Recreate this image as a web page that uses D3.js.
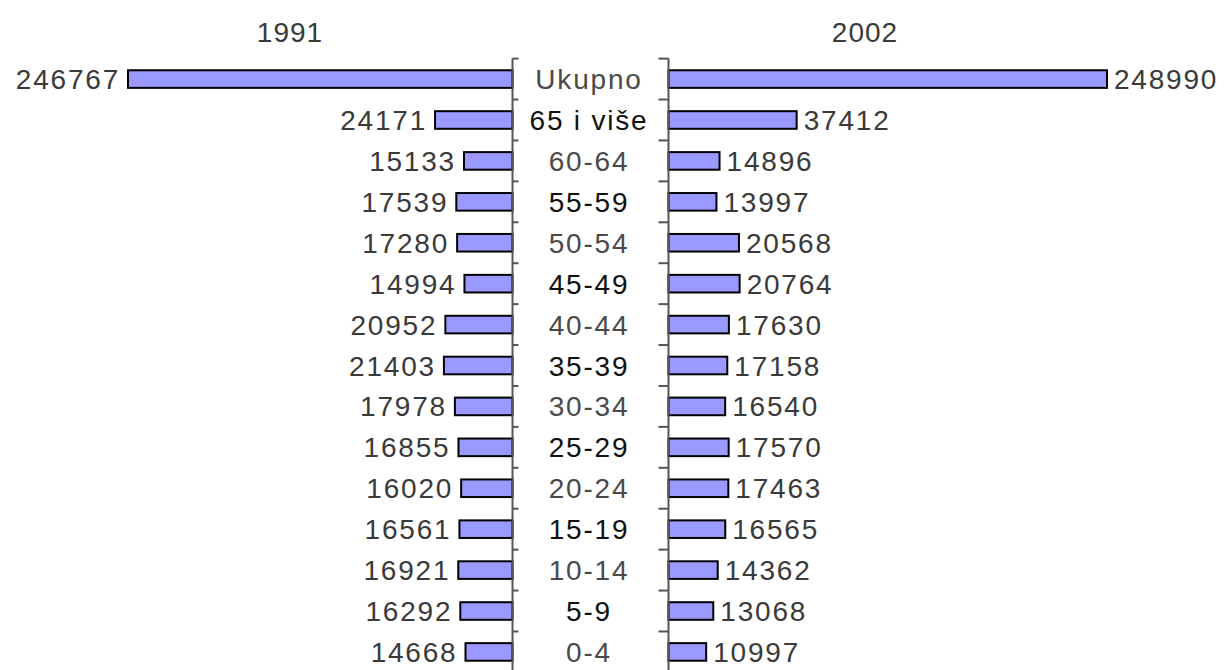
<!DOCTYPE html>
<html>
<head>
<meta charset="utf-8">
<script src="https://cdn.jsdelivr.net/npm/d3@7"></script>
<style>
  body { margin: 0; background: #fff; }
  svg text { font-family: "Liberation Sans", Arial, sans-serif; }
</style>
</head>
<body>
<div id="chart"></div>
<script>
// age groups, top to bottom
var groups = ["Ukupno", "65 i više", "60-64", "55-59", "50-54", "45-49", "40-44",
              "35-39", "30-34", "25-29", "20-24", "15-19", "10-14", "5-9", "0-4"];
var pop1991 = [246767, 24171, 15133, 17539, 17280, 14994, 20952,
               21403, 17978, 16855, 16020, 16561, 16921, 16292, 14668];
var pop2002 = [248990, 37412, 14896, 13997, 20568, 20764, 17630,
               17158, 16540, 17570, 17463, 16565, 14362, 13068, 10997];
var years = ["1991", "2002"];

var width = 1225, height = 670;
var leftAxisX = 512.5, rightAxisX = 668.5;

var svg = d3.select("#chart").append("svg")
    .attr("width", width)
    .attr("height", height);

var y = d3.scaleBand().domain(groups).range([58, 673]).paddingInner(0.57).paddingOuter(0.3);

// each side is its own plot, the total bar runs past the plot edge and gets clipped
var xLeft = d3.scaleLinear().domain([0, 120000]).range([leftAxisX, 128]).clamp(true);
var xRight = d3.scaleLinear().domain([0, 128000]).range([rightAxisX, 1107]).clamp(true);

var rows = groups.map(function(g, i) {
  return { name: g, i: i, v1: pop1991[i], v2: pop2002[i] };
});

var textCol = function(d) { return d.i % 2 ? "#111" : "#4a4a4a"; };

// left bars (1991)
svg.selectAll(".barL").data(rows).enter().append("rect")
    .attr("class", "barL")
    .attr("x", function(d) { return xLeft(d.v1); })
    .attr("y", function(d) { return y(d.name); })
    .attr("width", function(d) { return leftAxisX - xLeft(d.v1); })
    .attr("height", y.bandwidth())
    .style("fill", "#9999ff")
    .style("stroke", "#000")
    .style("stroke-width", 2);

// right bars (2002)
svg.selectAll(".barR").data(rows).enter().append("rect")
    .attr("class", "barR")
    .attr("x", rightAxisX)
    .attr("y", function(d) { return y(d.name); })
    .attr("width", function(d) { return xRight(d.v2) - rightAxisX; })
    .attr("height", y.bandwidth())
    .style("fill", "#9999ff")
    .style("stroke", "#000")
    .style("stroke-width", 2);

// axes with ticks between the categories
var tickYs = groups.map(function(g) { return y(g) - y.step() * y.paddingInner() / 2; });

svg.append("line")
    .attr("x1", leftAxisX).attr("x2", leftAxisX)
    .attr("y1", tickYs[0]).attr("y2", height)
    .style("stroke", "#555").style("stroke-width", 2);
svg.append("line")
    .attr("x1", rightAxisX).attr("x2", rightAxisX)
    .attr("y1", tickYs[0]).attr("y2", height)
    .style("stroke", "#555").style("stroke-width", 2);

svg.selectAll(".tickL").data(tickYs).enter().append("line")
    .attr("x1", leftAxisX).attr("x2", leftAxisX + 6)
    .attr("y1", function(d) { return d; }).attr("y2", function(d) { return d; })
    .style("stroke", "#555").style("stroke-width", 2);
svg.selectAll(".tickR").data(tickYs).enter().append("line")
    .attr("x1", rightAxisX - 10).attr("x2", rightAxisX)
    .attr("y1", function(d) { return d; }).attr("y2", function(d) { return d; })
    .style("stroke", "#555").style("stroke-width", 2);

// value labels
svg.selectAll(".lblL").data(rows).enter().append("text")
    .attr("x", function(d) { return xLeft(d.v1) - 8; })
    .attr("y", function(d) { return y(d.name) + y.bandwidth() / 2; })
    .attr("dy", "0.36em")
    .attr("text-anchor", "end")
    .style("font-size", "28px")
    .style("letter-spacing", "1.8px")
    .style("fill", "#3a3a3a")
    .text(function(d) { return d.v1; });

svg.selectAll(".lblR").data(rows).enter().append("text")
    .attr("x", function(d) { return xRight(d.v2) + 7; })
    .attr("y", function(d) { return y(d.name) + y.bandwidth() / 2; })
    .attr("dy", "0.36em")
    .style("font-size", "28px")
    .style("letter-spacing", "1.8px")
    .style("fill", "#3a3a3a")
    .text(function(d) { return d.v2; });

// category names in the middle
svg.selectAll(".cat").data(rows).enter().append("text")
    .attr("x", 589)
    .attr("y", function(d) { return y(d.name) + y.bandwidth() / 2; })
    .attr("dy", "0.36em")
    .attr("text-anchor", "middle")
    .style("font-size", "28px")
    .style("letter-spacing", "1.8px")
    .style("fill", textCol)
    .text(function(d) { return d.name; });

// year headers
svg.append("text").attr("x", 290).attr("y", 42).attr("text-anchor", "middle")
    .style("font-size", "28px").style("letter-spacing", "1px")
    .style("fill", "#3a3a3a").text(years[0]);
svg.append("text").attr("x", 865).attr("y", 42).attr("text-anchor", "middle")
    .style("font-size", "28px").style("letter-spacing", "1px")
    .style("fill", "#3a3a3a").text(years[1]);
</script>
</body>
</html>
